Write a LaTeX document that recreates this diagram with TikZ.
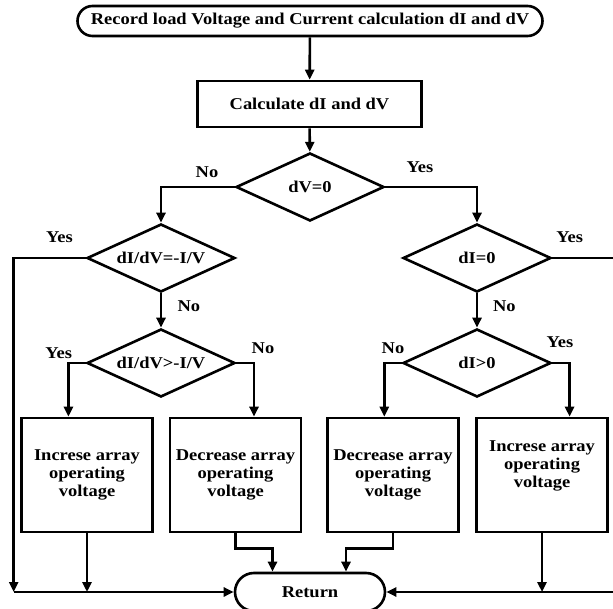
\documentclass[tikz,border=0pt]{standalone}
\usepackage{fontspec}
\setmainfont{Liberation Serif}[FakeStretch=1.12]
\usetikzlibrary{arrows.meta,shapes.geometric}
\begin{document}
\begin{tikzpicture}[x=1pt,y=-1pt,line width=2.6pt,
  every node/.style={font=\fontsize{16.5}{18}\selectfont\bfseries},
  arr/.style={-{Triangle[length=10pt,width=9pt]}},
  stepbox/.style={draw,minimum width=131pt,minimum height=114pt,inner sep=0pt,align=center},
  decide/.style={draw,diamond,minimum width=148pt,minimum height=68pt,inner sep=0pt},
  lbl/.style={inner sep=0pt}]
\useasboundingbox (0,0) rectangle (613,609);
\node[draw,rounded corners=15pt,minimum width=465pt,minimum height=30pt,inner sep=0pt] (top) at (310,21) {Record load Voltage and Current calculation dI and dV};
\node[draw,minimum width=224pt,minimum height=46pt,inner sep=0pt] (calc) at (309.5,104) {Calculate dI and dV};
\node[decide] (d1) at (310,187) {\makebox[0pt]{dV=0}};
\node[decide] (d2) at (161,258) {\makebox[0pt]{dI/dV=-I/V}};
\node[decide] (d3) at (477,258) {\makebox[0pt]{dI=0}};
\node[decide] (d4) at (161,363) {\makebox[0pt]{dI/dV>-I/V}};
\node[decide] (d5) at (477,363) {\makebox[0pt]{dI>0}};
\node[stepbox] (b1) at (87,475) {Increse array\\operating\\voltage};
\node[stepbox] (b2) at (235.5,475) {Decrease array\\operating\\voltage};
\node[stepbox] (b3) at (393,475) {Decrease array\\operating\\voltage};
\node[stepbox] (b4) at (542,475) {};
\node[align=center,inner sep=0pt] (t4) at (542,466) {Increse array\\operating\\voltage};
\node[draw,rounded corners=19pt,minimum width=150pt,minimum height=38pt,inner sep=0pt] (ret) at (310,592) {Return};
% labels
\node[lbl] (l1) at (207,172) {No};
\node[lbl] (l2) at (420,167) {Yes};
\node[lbl] (l3) at (59.4,237) {Yes};
\node[lbl] (l4) at (569.6,237) {Yes};
\node[lbl] (l5) at (188.8,306) {No};
\node[lbl] (l6) at (504.3,306) {No};
\node[lbl] (l7) at (58.6,353) {Yes};
\node[lbl] (l8) at (263,348) {No};
\node[lbl] (l9) at (393,348) {No};
\node[lbl] (l10) at (560,342) {Yes};
% connectors
\coordinate (L) at (13.7,592);
\coordinate (R1) at (617,258);
\coordinate (R2) at (617,592);
\draw[arr] (top) -- (calc);
\draw[arr] (calc) -- (d1);
\draw[arr] (d1.west) -| (d2.north);
\draw[arr] (d1.east) -| (d3.north);
\draw[arr] (d2.south) -- (d4.north);
\draw[arr] (d3.south) -- (d5.north);
\draw[arr] (d4.west) -| ([xshift=-18.6pt]b1.north);
\draw[arr] (d4.east) -| ([xshift=18.5pt]b2.north);
\draw[arr] (d5.west) -| ([xshift=-8.7pt]b3.north);
\draw[arr] (d5.east) -| ([xshift=27.6pt]b4.north);
\draw[arr] (d2.west) -| (L);
\draw[arr] (L) -- (ret.west);
\draw[arr] (b1.south) -- (b1.south |- ret.west);
\draw[arr] (b2.south) -- ++(0,15) -| ([xshift=-37.5pt]ret.north);
\draw[arr] (b3.south) -- ++(0,15) -| ([xshift=36pt]ret.north);
\draw[arr] (b4.south) -- (b4.south |- ret.east);
\draw[arr] (d3.east) -- (R1) -- (R2) -- (ret.east);
\end{tikzpicture}
\end{document}
